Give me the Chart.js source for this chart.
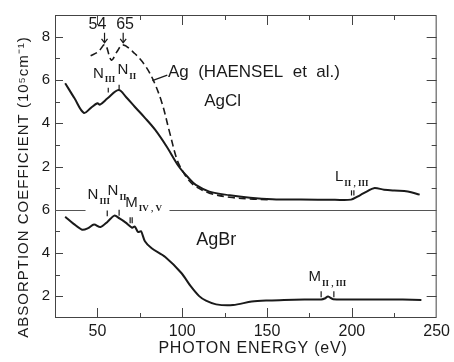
<!DOCTYPE html>
<html>
<head>
<meta charset="utf-8">
<script src="https://cdn.jsdelivr.net/npm/chart.js@4.4.0/dist/chart.umd.min.js"></script>
<style>
  html, body { margin: 0; padding: 0; background: #fff; }
</style>
</head>
<body>
<canvas id="chart" width="454" height="362"></canvas>
<script>
// AgCl, upper panel (10^5 cm^-1)
const agclEnergy = [31, 36.5, 42, 46, 50, 51.5, 56, 62.5, 67, 72, 78, 84, 91, 98, 104, 108, 116, 128, 140, 153, 170, 190, 199.5, 205, 209, 213, 219, 225, 233, 240];
const agclCoef = [5.85, 5.15, 4.48, 4.7, 4.92, 4.86, 5.15, 5.53, 5.2, 4.76, 4.25, 3.7, 2.9, 2.0, 1.45, 1.15, 0.84, 0.67, 0.56, 0.49, 0.47, 0.46, 0.47, 0.68, 0.85, 1.0, 0.93, 0.89, 0.85, 0.7];

// Ag metal (Haensel et al.), dashed
const agEnergy = [46, 50.5, 54.5, 58.2, 61.5, 65, 72, 78, 83, 88, 92.5, 97, 100.5, 104, 108, 116, 128, 140, 152];
const agCoef = [7.12, 7.3, 7.63, 6.92, 7.3, 7.62, 7.22, 6.68, 5.98, 4.95, 3.6, 2.3, 1.75, 1.35, 1.07, 0.77, 0.58, 0.5, 0.46];

// AgBr, lower panel
const agbrEnergy = [31, 36, 41, 44.5, 48, 51.8, 56, 60, 63, 66.5, 70.5, 72, 74, 75.7, 78, 82, 90, 99.5, 105, 110, 114, 120, 130, 141, 150, 160, 172, 182, 184, 186, 189, 200, 217, 230, 241];
const agbrCoef = [5.68, 5.35, 5.08, 5.15, 5.32, 5.2, 5.45, 5.73, 5.6, 5.42, 5.17, 5.23, 4.97, 5.01, 4.55, 4.22, 3.82, 3.08, 2.47, 2.01, 1.8, 1.63, 1.6, 1.76, 1.81, 1.83, 1.85, 1.86, 1.9, 1.99, 1.87, 1.86, 1.86, 1.85, 1.83];

const xTickLabels = [50, 100, 150, 200, 250];
const topTickLabels = [2, 4, 6, 8];
const bottomTickLabels = [2, 4, 6];

const ink = '#1a1a1a';
const pts = (xs, ys) => xs.map((x, i) => ({ x, y: ys[i] }));

function label(ctx, text, sub, x, y, size) {
    ctx.font = size + 'px "Liberation Sans"';
    ctx.textAlign = 'left';
    ctx.textBaseline = 'middle';
    ctx.fillText(text, x, y);
    if (sub) {
        const w = ctx.measureText(text).width;
        ctx.font = 'bold ' + Math.round(size * 0.62) + 'px "Liberation Serif"';
        ctx.fillText(sub, x + w + 1, y + size * 0.42);
    }
}

const decor = {
    id: 'decor',
    afterDraw(chart) {
        const { ctx, chartArea: a, scales } = chart;
        const X = v => scales.x.getPixelForValue(v);
        const T = v => scales.yTop.getPixelForValue(v);
        const B = v => scales.yBot.getPixelForValue(v);
        const seg = (x1, y1, x2, y2) => { ctx.beginPath(); ctx.moveTo(x1, y1); ctx.lineTo(x2, y2); ctx.stroke(); };

        ctx.save();
        ctx.strokeStyle = '#444';
        ctx.lineWidth = 1;
        ctx.strokeRect(a.left + 0.5, a.top + 0.5, a.right - a.left - 1, a.bottom - a.top - 1);

        // inward ticks
        scales.x.ticks.forEach(t => {
            if (t.value <= scales.x.min || t.value >= scales.x.max) return;
            const x = Math.round(X(t.value)) + 0.5;
            const len = t.value % 50 === 0 ? 10 : 5;
            seg(x, a.bottom, x, a.bottom - len);
            seg(x, a.top, x, a.top + len);
        });
        [['yTop', T], ['yBot', B]].forEach(([id, f]) => {
            scales[id].ticks.forEach(t => {
                if (t.value <= scales[id].min || t.value >= scales[id].max) return;
                const y = Math.round(f(t.value)) + 0.5;
                const even = t.value % 2 === 0;
                seg(a.left, y, a.left + (even ? 8 : 5), y);
                seg(a.right, y, a.right - (even ? 10 : 5), y);
            });
        });

        // divider between panels, broken by the lower labels
        const yd = Math.round(B(6)) + 0.5;
        ctx.strokeStyle = '#555';
        seg(a.left, yd, X(43), yd);
        seg(X(92.5), yd, a.right, yd);

        ctx.fillStyle = ink;
        ctx.strokeStyle = ink;
        ctx.lineWidth = 1.2;

        // edge arrows 54 / 65
        label(ctx, '54', null, X(54.2) - 16, T(8.55), 16);
        label(ctx, '65', null, X(65.2) - 7, T(8.55), 16);
        [54.2, 65.2].forEach(e => {
            const x = X(e);
            seg(x, T(8.18), x, T(7.72));
            ctx.beginPath();
            ctx.moveTo(x - 3, T(7.9)); ctx.lineTo(x, T(7.72)); ctx.lineTo(x + 3, T(7.9));
            ctx.stroke();
        });

        // upper edge labels
        label(ctx, 'N', 'III', X(47.4), T(6.3), 15);
        label(ctx, 'N', 'II', X(61.8), T(6.45), 15);
        seg(X(56.4), T(5.64), X(56.4), T(5.42));
        seg(X(62.8), T(5.78), X(62.8), T(5.55));

        label(ctx, 'Ag  (HAENSEL  et  al.)', null, X(91.6), T(6.36), 17);
        seg(X(91.2), T(6.22), X(82.4), T(5.97));
        label(ctx, 'AgCl', null, X(113), T(5.02), 17);

        label(ctx, 'L', 'II , III', X(190), T(1.52), 15);
        seg(X(199.8), T(0.9), X(199.8), T(0.66));
        seg(X(201.2), T(0.9), X(201.2), T(0.66));

        // lower edge labels
        label(ctx, 'AgBr', null, X(108.3), B(4.59), 18);
        label(ctx, 'N', 'III', X(44.2), B(6.68), 15);
        label(ctx, 'N', 'II', X(56), B(6.86), 15);
        label(ctx, 'M', 'IV , V', X(66.4), B(6.32), 15);
        seg(X(55.8), B(5.97), X(55.8), B(5.7));
        seg(X(62.8), B(6.0), X(62.8), B(5.73));
        seg(X(69.3), B(5.65), X(69.3), B(5.38));
        seg(X(70.5), B(5.65), X(70.5), B(5.38));

        label(ctx, 'M', 'II , III', X(174.5), B(2.9), 15);
        seg(X(181.9), B(2.24), X(181.9), B(1.96));
        seg(X(189.4), B(2.24), X(189.4), B(1.96));

        // axis titles
        ctx.font = '15px "Liberation Sans"';
        ctx.letterSpacing = '1px';
        ctx.textAlign = 'center';
        ctx.textBaseline = 'middle';
        ctx.save();
        ctx.translate(24, 187);
        ctx.rotate(-Math.PI / 2);
        ctx.fillText('ABSORPTION COEFFICIENT (10\u2075cm\u207B\u00B9)', 0, 0);
        ctx.restore();
        ctx.font = '16px "Liberation Sans"';
        ctx.letterSpacing = '0.8px';
        ctx.fillText('PHOTON ENERGY (eV)', 253, 349);
        ctx.restore();
    }
};

new Chart(document.getElementById('chart'), {
    type: 'line',
    data: {
        datasets: [
            { label: 'AgCl', data: pts(agclEnergy, agclCoef), yAxisID: 'yTop', borderColor: ink, borderWidth: 2, tension: 0.35 },
            { label: 'Ag (HAENSEL et al.)', data: pts(agEnergy, agCoef), yAxisID: 'yTop', borderColor: ink, borderWidth: 1.6, borderDash: [7, 4], tension: 0.35 },
            { label: 'AgBr', data: pts(agbrEnergy, agbrCoef), yAxisID: 'yBot', borderColor: ink, borderWidth: 2, tension: 0.3 }
        ]
    },
    options: {
        responsive: false,
        animation: false,
        layout: { padding: { left: 0, top: 15, right: 14, bottom: 0 } },
        elements: { point: { radius: 0 } },
        plugins: { legend: { display: false }, tooltip: { enabled: false } },
        scales: {
            x: {
                type: 'linear', min: 25, max: 250,
                grid: { display: false, drawTicks: false }, border: { display: false },
                ticks: {
                    stepSize: 25, autoSkip: false, maxRotation: 0, padding: 4, color: ink,
                    font: { family: 'Liberation Sans', size: 16 },
                    callback: v => xTickLabels.includes(v) ? String(v) : ''
                },
                afterFit: s => { s.height = 44; }
            },
            yBot: {
                type: 'linear', position: 'left', stack: 'panels', stackWeight: 5, min: 1, max: 6,
                grid: { display: false, drawTicks: false }, border: { display: false },
                ticks: {
                    stepSize: 1, autoSkip: false, padding: 5, color: ink,
                    font: { family: 'Liberation Sans', size: 15 },
                    callback: v => bottomTickLabels.includes(v) ? String(v) : ''
                },
                afterFit: s => { s.width = 55; }
            },
            yTop: {
                type: 'linear', position: 'left', stack: 'panels', stackWeight: 9, min: 0, max: 9,
                grid: { display: false, drawTicks: false }, border: { display: false },
                ticks: {
                    stepSize: 1, autoSkip: false, padding: 5, color: ink,
                    font: { family: 'Liberation Sans', size: 15 },
                    callback: v => topTickLabels.includes(v) ? String(v) : ''
                },
                afterFit: s => { s.width = 55; }
            }
        }
    },
    plugins: [decor]
});
</script>
</body>
</html>
